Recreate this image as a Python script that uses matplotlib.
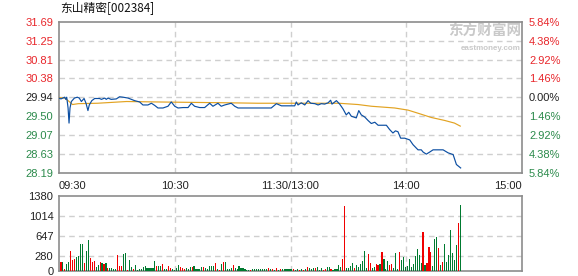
import numpy as np
import matplotlib
matplotlib.use('Agg')
import matplotlib.pyplot as plt

plt.rcParams['font.family'] = ['Liberation Sans', 'Noto Sans CJK SC', 'DejaVu Sans']

title = '东山精密[002384]'

# minutes since 09:30 (trading time, lunch break removed)
price_t = [0, 1, 3, 3.5, 4, 4.7, 5.2, 5.7, 6.4, 8, 9.5, 10.5, 11.6, 13, 14, 15, 15.7, 17,
           18.5, 21, 22, 23.7, 24.5, 25.4, 27, 29.7, 31.4, 33.2, 35.8, 39.2, 41.8, 43.5,
           46.1, 47.9, 49.6, 51.3, 53.9, 56.5, 58.2, 60, 61.7, 64.3, 66.9, 68.6, 70.3,
           72.9, 75.5, 78.1, 79.8, 82.4, 84.1, 85.9, 89.3, 91.1, 92.8, 103, 110, 112.7,
           115.3, 120.4, 122.2, 123, 123.9, 125.6, 127.4, 129.1, 130.5, 132.6, 134.3, 136,
           137.7, 139.5, 140.8, 141.5, 143.8, 145.5, 147.2, 148.9, 150.2, 151.5, 154.1,
           155.4, 156.7, 158.5, 160.2, 161.9, 163.7, 165.4, 169.7, 171.4, 173.1, 174.4,
           175.7, 177.1, 179.2, 181.8, 183.5, 186.1, 187.8, 188.7, 190.4, 192.2, 193.9,
           199.1, 201.7, 204.3, 206, 208.2]
price_v = [29.92, 29.90, 29.94, 29.89, 29.94, 29.69, 29.34, 29.69, 29.84, 29.92, 29.94, 29.92,
           29.84, 29.91, 29.80, 29.63, 29.76, 29.86, 29.91, 29.91, 29.89, 29.92, 29.89, 29.92,
           29.89, 29.90, 29.95, 29.94, 29.92, 29.86, 29.83, 29.76, 29.76, 29.80, 29.75, 29.69,
           29.69, 29.73, 29.83, 29.73, 29.69, 29.70, 29.70, 29.80, 29.73, 29.70, 29.70, 29.80,
           29.73, 29.80, 29.73, 29.76, 29.80, 29.73, 29.69, 29.69, 29.69, 29.79, 29.74, 29.74,
           29.74, 29.83, 29.76, 29.81, 29.76, 29.86, 29.80, 29.79, 29.76, 29.79, 29.78, 29.81,
           29.87, 29.78, 29.86, 29.78, 29.67, 29.53, 29.59, 29.50, 29.46, 29.63, 29.53, 29.48,
           29.40, 29.33, 29.36, 29.29, 29.29, 29.19, 29.11, 29.16, 29.14, 28.99, 28.99, 28.95,
           28.84, 28.72, 28.72, 28.67, 28.62, 28.67, 28.72, 28.72, 28.65, 28.61, 28.38, 28.30]

avg_t = [0, 3, 5, 7, 10, 20, 35, 50, 88, 103, 145, 155, 162, 174, 181, 186, 193, 200, 205, 208]
avg_v = [29.93, 29.92, 29.85, 29.77, 29.79, 29.80, 29.84, 29.83, 29.81, 29.80, 29.80, 29.77,
         29.73, 29.69, 29.64, 29.57, 29.47, 29.40, 29.34, 29.27]

volume = [165, 165, 43, 123, 165, 368, 202, 220, 257, 276, 497, 497, 147, 368, 570, 239, 165,
          184, 74, 110, 165, 147, 129, 147, 55, 55, 55, 37, 37, 294, 92, 92, 313, 331, 18, 202,
          74, 37, 110, 18, 37, 37, 74, 92, 55, 55, 55, 55, 184, 92,
          92, 92, 129, 37, 37, 92, 55, 37, 18, 55, 110, 74, 55, 37, 55, 37, 74, 74, 92, 37, 37,
          37, 74, 74, 55, 37, 92, 92, 92, 147, 37, 18, 129, 165, 165, 37, 37, 55, 110, 55, 37,
          92, 55, 55, 37, 18, 18, 18, 37, 37, 37,
          37, 37, 37, 37, 37, 55, 37, 37, 18, 55, 18, 37, 37, 37, 37, 37, 37, 37, 37, 18, 37, 18,
          37, 18, 37, 74, 55, 37, 55, 55, 74, 18, 55, 18, 37, 74, 74, 37, 18, 37, 37, 110, 74,
          220, 1195, 55, 55, 92, 147, 55, 110,
          74, 129, 184, 368, 55, 313, 147, 55, 74, 129, 110, 129, 350, 220, 37, 184, 110, 129, 55,
          331, 37, 350, 202, 257, 74, 92, 220, 74, 129, 276, 405, 294, 147, 717, 110, 147, 441,
          350, 92, 588, 625, 423, 110, 165, 497, 165, 294, 754, 331, 202, 478, 883, 1214]
# 1 = up (red), 0 = down (green)
vol_up = [1, 0, 1, 0, 0, 1, 1, 1, 0, 0, 0, 0, 1, 0, 0, 1, 1, 1, 0, 0, 1, 0, 1, 0, 1, 0, 0, 0,
          0, 1, 1, 1, 0, 0, 1, 0, 0, 1, 0, 0, 0, 0, 0, 0, 0, 0, 0, 0, 0, 1,
          0, 0, 1, 0, 0, 1, 1, 0, 0, 0, 0, 1, 1, 1, 0, 0, 0, 1, 0, 0, 0, 0, 0, 1, 0, 0, 0, 0,
          0, 1, 0, 1, 0, 1, 0, 0, 0, 0, 1, 0, 0, 0, 0, 0, 0, 0, 0, 1, 0, 0, 0,
          0, 0, 0, 0, 0, 1, 0, 1, 0, 1, 0, 1, 0, 0, 0, 0, 0, 0, 1, 0, 0, 1, 0, 1, 0, 1, 0, 0,
          0, 1, 0, 0, 0, 1, 1, 0, 0, 1, 0, 0, 0, 0, 0, 1, 1, 0, 0, 0, 0,
          1, 0, 0, 0, 0, 0, 0, 1, 1, 0, 0, 1, 1, 0, 1, 0, 0, 0, 1, 1, 0, 0, 0, 1, 0, 0, 0, 0,
          0, 0, 0, 0, 0, 0, 0, 1, 0, 1, 1, 1, 0, 0, 0, 1, 0, 1, 0, 0, 0, 0, 0, 0, 0]

price_ticks = [28.19, 28.63, 29.07, 29.50, 29.94, 30.38, 30.81, 31.25, 31.69]
pct_labels = ['5.84%', '4.38%', '2.92%', '1.46%', '0.00%', '1.46%', '2.92%', '4.38%', '5.84%']
vol_ticks = [0, 280, 647, 1014, 1380]
time_ticks = [0, 60, 120, 180, 240]
time_labels = ['09:30', '10:30', '11:30/13:00', '14:00', '15:00']

RED = '#e8262b'
GREEN = '#2b8a4b'
DARK = '#222222'
FRAME = '#8c8c8c'
GRID = '#cfcfcf'

fig = plt.figure(figsize=(5.78, 2.76), dpi=100)
ax = fig.add_axes([59 / 578, 1 - 172.7 / 276, 463 / 578, 151 / 276])
vax = fig.add_axes([59 / 578, 1 - 271 / 276, 463 / 578, 75 / 276])

fig.text(60 / 578, 1 - 9 / 276, title, fontsize=8.5, va='center', ha='left', color='#111111',
         family=['Noto Sans CJK SC', 'DejaVu Sans'])

# price panel
ax.plot(avg_t, avg_v, color='#e2a322', lw=0.85, zorder=3)
ax.plot(price_t, price_v, color='#0b4ea2', lw=0.85, zorder=4)
ax.set_xlim(0, 240)
ax.set_ylim(price_ticks[0], price_ticks[-1])
ax.set_yticks(price_ticks)
ax.set_yticklabels(['%.2f' % p for p in price_ticks])
ax.set_xticks(time_ticks)
ax.set_xticklabels(time_labels)
xl = ax.get_xticklabels()
xl[0].set_ha('left')
xl[-1].set_ha('right')
ax.tick_params(axis='both', length=0, labelsize=8, colors=DARK)
ax.tick_params(axis='y', pad=4)
ax.tick_params(axis='x', pad=6)
for lab, p in zip(ax.get_yticklabels(), price_ticks):
    lab.set_color(RED if p > 29.94 else (DARK if p == 29.94 else GREEN))
for y in price_ticks[1:-1]:
    ax.axhline(y, color=GRID, lw=1, ls=(0, (4, 3)), zorder=1)
for x in time_ticks[1:-1]:
    ax.axvline(x, color=GRID, lw=1, ls=(0, (4, 3)), zorder=1)
for s in ax.spines.values():
    s.set_color(FRAME)
    s.set_linewidth(1.2)

ax2 = ax.twinx()
ax2.set_ylim(price_ticks[0], price_ticks[-1])
ax2.set_yticks(price_ticks)
ax2.set_yticklabels(pct_labels)
ax2.tick_params(axis='y', length=0, labelsize=8, pad=5)
for lab, p in zip(ax2.get_yticklabels(), price_ticks):
    lab.set_color(RED if p > 29.94 else (DARK if p == 29.94 else GREEN))
for s in ax2.spines.values():
    s.set_visible(False)

ax.text(0.998, 0.99, '东方财富网', transform=ax.transAxes, ha='right', va='top', fontsize=10.5,
        fontweight='bold', color='#c9c9c9', family=['Noto Sans CJK SC'], zorder=2)
ax.text(0.998, 0.845, 'eastmoney.com', transform=ax.transAxes, ha='right', va='top', fontsize=5.8,
        fontweight='bold', color='#c9c9c9', zorder=2)

# volume panel
vol_t = np.linspace(1, 208, len(volume))
vol_c = ['#f00000' if u else '#007a30' for u in vol_up]
vax.bar(vol_t, volume, width=0.6, color=vol_c, linewidth=0, antialiased=False, zorder=3)
vax.set_xlim(0, 240)
vax.set_ylim(0, vol_ticks[-1])
vax.set_yticks(vol_ticks)
vax.set_yticklabels([str(v) for v in vol_ticks])
vax.set_xticks([])
vax.tick_params(axis='y', length=0, labelsize=8, colors=DARK, pad=4)
for y in vol_ticks[1:-1]:
    vax.axhline(y, color=GRID, lw=1, ls=(0, (4, 3)), zorder=1)
for x in time_ticks[1:-1]:
    vax.axvline(x, color=GRID, lw=1, ls=(0, (4, 3)), zorder=1)
for s in vax.spines.values():
    s.set_color(FRAME)
    s.set_linewidth(1.2)

fig.savefig('out.png', dpi=100)
